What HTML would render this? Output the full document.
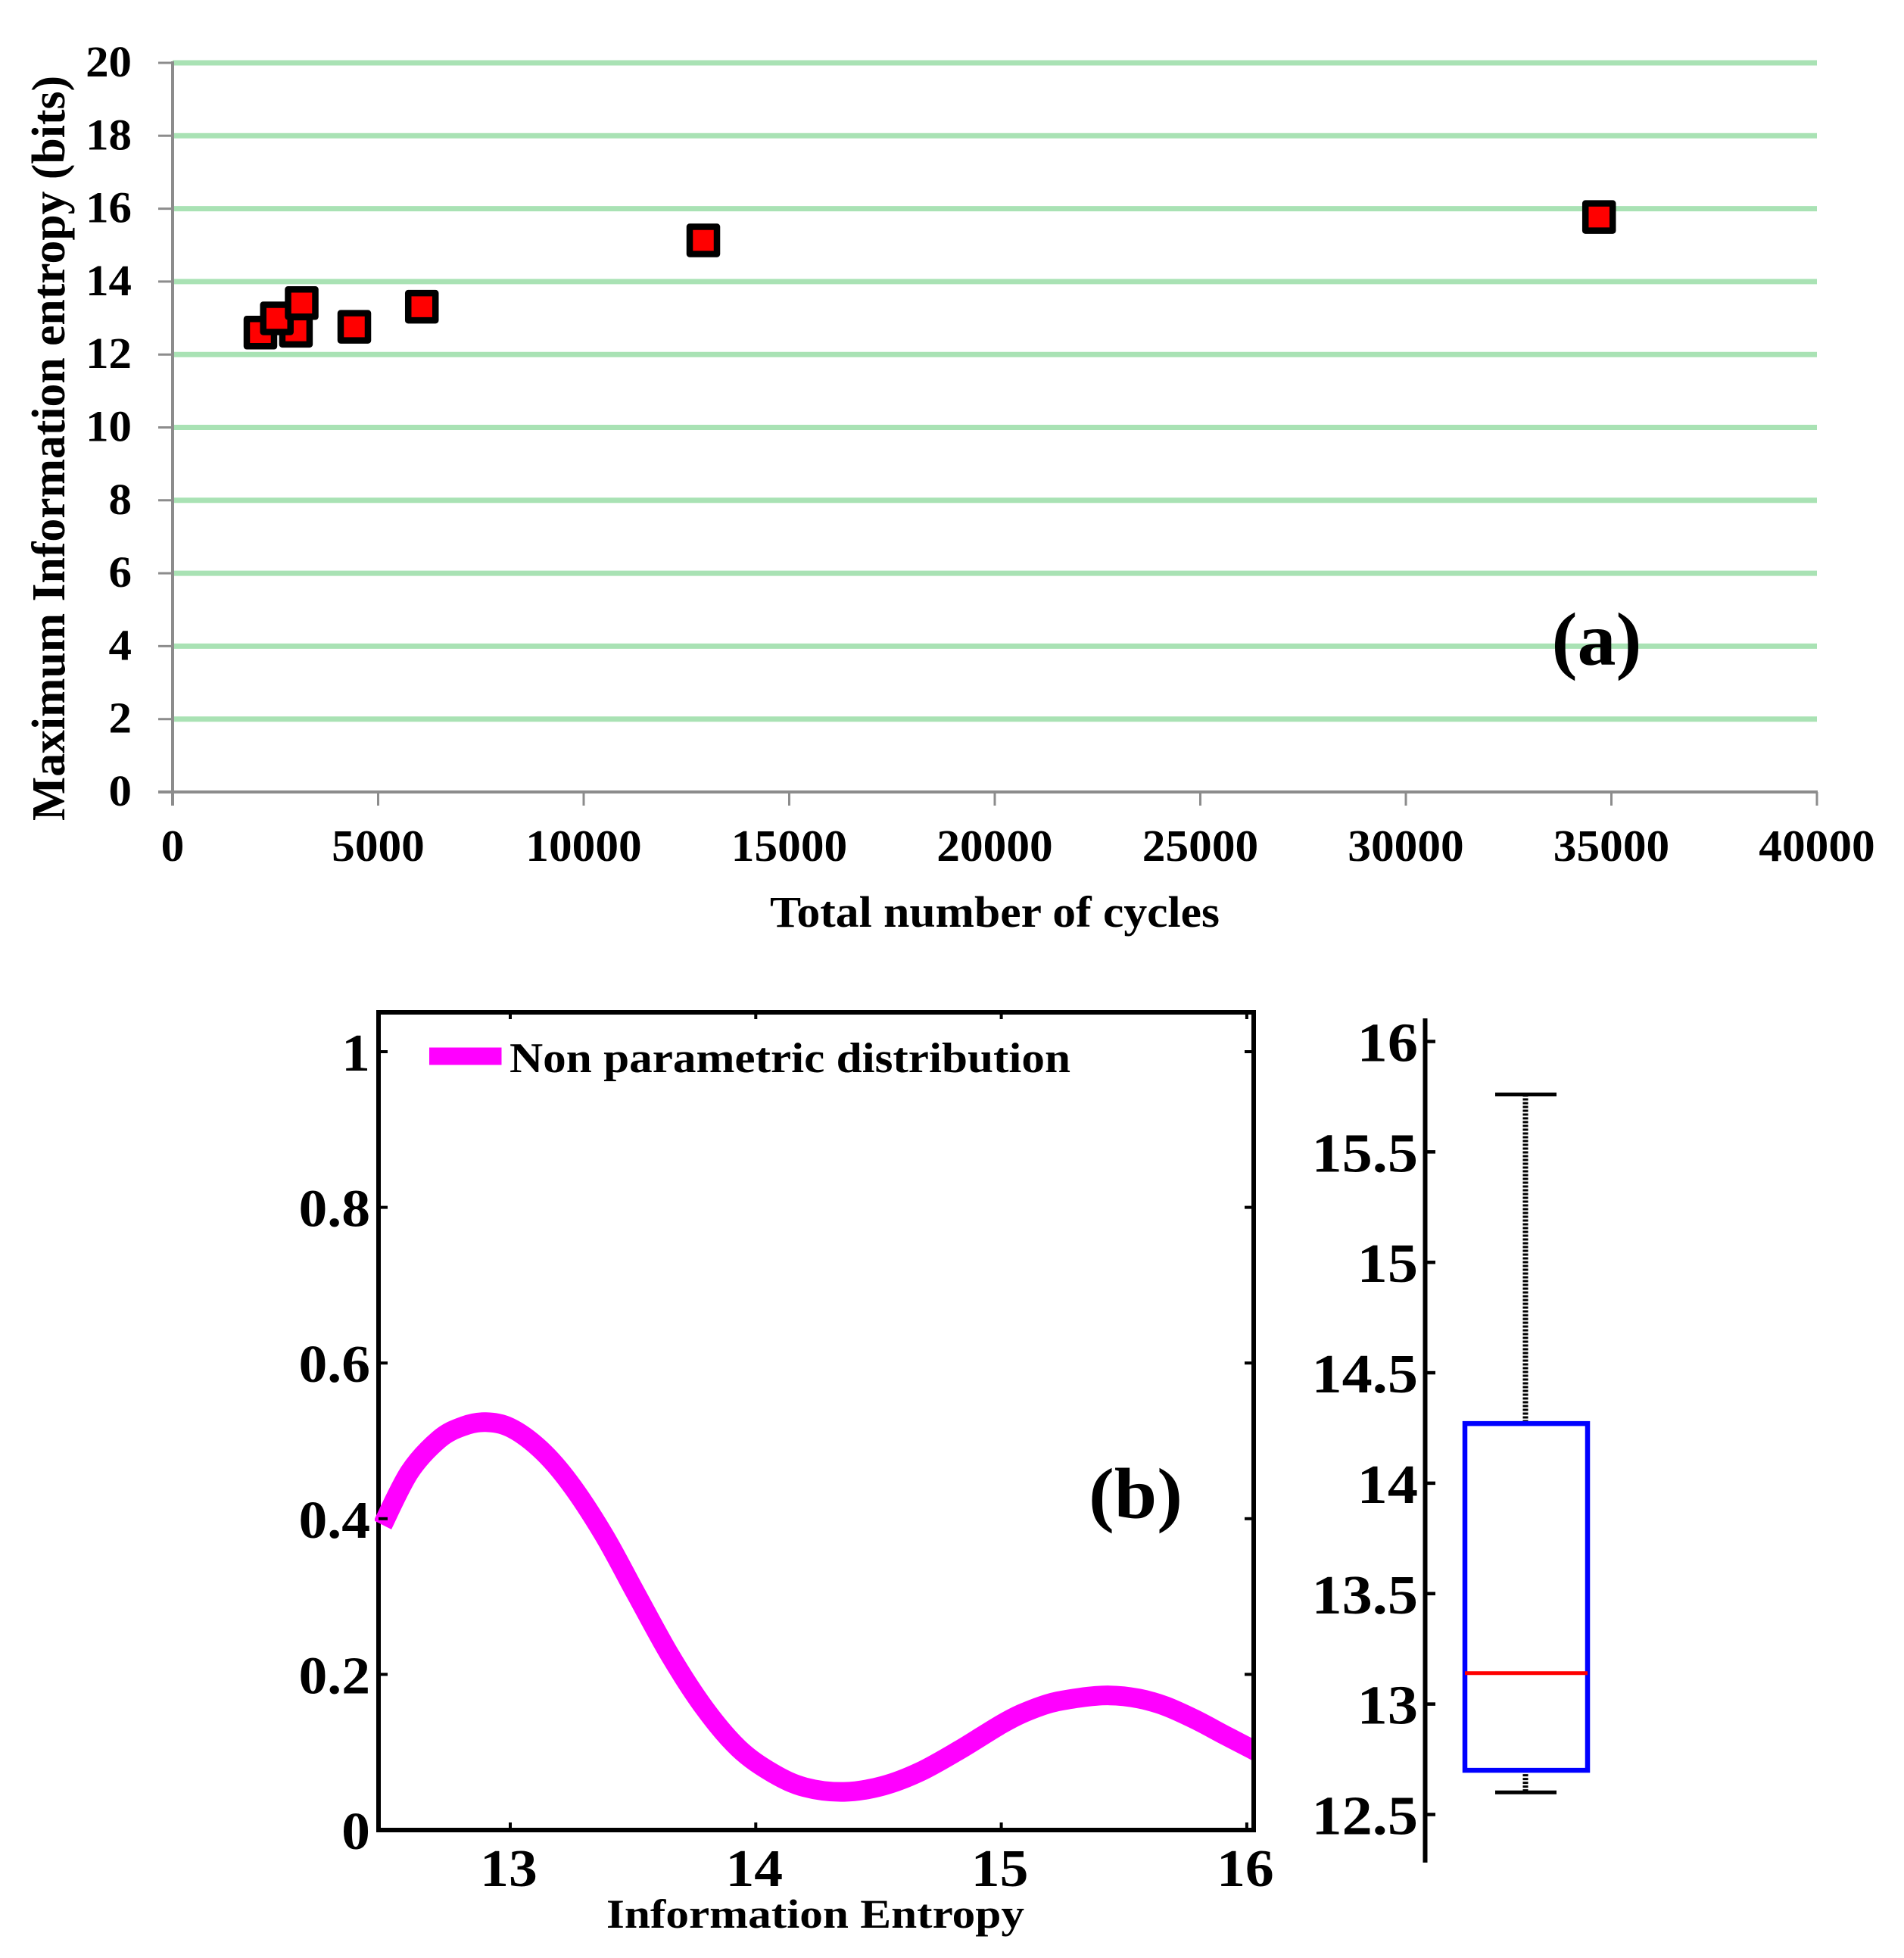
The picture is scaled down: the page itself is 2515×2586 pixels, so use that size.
<!DOCTYPE html>
<html lang="en">
<head>
<meta charset="utf-8">
<title>Entropy charts</title>
<style>
html,body{margin:0;padding:0;background:#fff;}
svg{display:block;}
text{font-family:"Liberation Serif",serif;font-weight:bold;fill:#000;}
</style>
</head>
<body>
<svg id="figure" xmlns="http://www.w3.org/2000/svg" width="2515" height="2586" viewBox="0 0 2515 2586">
  <defs>
    <clipPath id="frame-clip"><rect x="495" y="1337" width="1158" height="1080"></rect></clipPath>
  </defs>
  <rect x="0" y="0" width="2515" height="2586" fill="#ffffff"></rect>
  <g id="chart-a"></g>
  <g id="chart-b"></g>
  <g id="chart-c"></g>
</svg>
<script>
// Panel (a) data
const cyclesTicks = [0, 5000, 10000, 15000, 20000, 25000, 30000, 35000, 40000];
const entropyTicks = [0, 2, 4, 6, 8, 10, 12, 14, 16, 18, 20];
const totalCycles = [2136, 3000, 2536, 3140, 4420, 6063, 12910, 34700];
const maxEntropy = [12.6, 12.65, 12.99, 13.41, 12.76, 13.31, 15.13, 15.77];

// Panel (b) data
const densityXTicks = [13, 14, 15, 16];
const densityYTicks = [0, 0.2, 0.4, 0.6, 0.8, 1];
const densityX = [12.48, 12.59, 12.71, 12.81, 12.90, 13.0, 13.12, 13.24, 13.38, 13.51, 13.65, 13.79, 13.93, 14.07, 14.20, 14.36, 14.52, 14.67, 14.83, 14.99, 15.08, 15.20, 15.32, 15.44, 15.56, 15.67, 15.79, 15.91, 16.02, 16.06];
const densityY = [0.392, 0.460, 0.502, 0.519, 0.524, 0.517, 0.490, 0.447, 0.380, 0.305, 0.225, 0.157, 0.105, 0.073, 0.055, 0.049, 0.057, 0.075, 0.103, 0.134, 0.149, 0.163, 0.170, 0.173, 0.169, 0.159, 0.142, 0.122, 0.104, 0.097];

// Panel (c) data
const boxTicks = [12.5, 13, 13.5, 14, 14.5, 15, 15.5, 16];
const boxTickLabels = ['12.5', '13', '13.5', '14', '14.5', '15', '15.5', '16'];
const whiskerHigh = 15.76;
const whiskerLow = 12.60;
const quartileHigh = 14.27;
const quartileLow = 12.70;
const medianValue = 13.14;

const NS = 'http://www.w3.org/2000/svg';
function xA(v){ return 228 + v * (2400 - 228) / 40000; }
function yA(v){ return 1046 - v * 48.15; }
function xB(v){ return 674 + (v - 13) * 324.3; }
function yB(v){ return 2417 - v * 1028; }
function yC(v){ return 1375.5 + (16 - v) * 291.7; }

function shape(parent, tag, props){
  const el = document.createElementNS(NS, tag);
  for (const k in props) el.setAttribute(k, props[k]);
  parent.appendChild(el);
  return el;
}
function line(parent, x1, y1, x2, y2, color, width){
  return shape(parent, 'line', {x1:x1, y1:y1, x2:x2, y2:y2, stroke:color, 'stroke-width':width});
}
function label(parent, str, x, y, size, anchor, stretch){
  const el = document.createElementNS(NS, 'text');
  el.setAttribute('x', x);
  el.setAttribute('y', y);
  el.setAttribute('font-size', size);
  el.setAttribute('text-anchor', anchor);
  el.textContent = str;
  parent.appendChild(el);
  if (stretch && stretch !== 1) {
    const w = el.getComputedTextLength();
    el.setAttribute('textLength', (w * stretch).toFixed(1));
    el.setAttribute('lengthAdjust', 'spacingAndGlyphs');
  }
  return el;
}
function fitted(el, len){
  el.setAttribute('textLength', len);
  el.setAttribute('lengthAdjust', 'spacingAndGlyphs');
}

/* ---------- Panel (a) ---------- */
const a = document.getElementById('chart-a');
const GREEN = '#a9e2b4';
const GRAY = '#8c8c8c';

entropyTicks.forEach(function(t){
  if (t !== 0) {
    const g = line(a, xA(0), yA(t), xA(40000), yA(t), GREEN, 7);
    
    
  }
  const tk = line(a, 209, yA(t), xA(0), yA(t), GRAY, 3);
  
  
  const lb = label(a, String(t), 174, yA(t) + 18, 58, 'end', 1.05);
  
  
});
cyclesTicks.forEach(function(t){
  const tk = line(a, xA(t), yA(0), xA(t), yA(0) + 18, GRAY, 3);
  
  
  const lb = label(a, String(t), xA(t), 1137, 59, 'middle', 1.04);
  
  
});
const axY = line(a, xA(0), yA(20) - 2, xA(0), yA(0) + 18, GRAY, 4);


const axX = line(a, 209, yA(0), xA(40000) + 1, yA(0), GRAY, 4);



totalCycles.forEach(function(c, i){
  const m = shape(a, 'rect', {
    x: xA(c) - 18, y: yA(maxEntropy[i]) - 18, width: 36, height: 36,
    fill: '#ff0000', stroke: '#000000', 'stroke-width': 8.5, 'stroke-linejoin': 'round'
  });
  
  
});

const yTitle = label(a, 'Maximum Information entropy (bits)', 0, 0, 62, 'middle');
yTitle.setAttribute('transform', 'translate(85 592) rotate(-90)');
fitted(yTitle, 984);



const xTitle = label(a, 'Total number of cycles', 1314, 1224, 58, 'middle');
fitted(xTitle, 594);



const tagA = label(a, '(a)', 2109, 878, 100, 'middle');
fitted(tagA, 119);



/* ---------- Panel (b) ---------- */
const b = document.getElementById('chart-b');

function smoothPath(xs, ys){
  const p = xs.map(function(x, i){ return [xB(x), yB(ys[i])]; });
  let d = 'M' + p[0][0].toFixed(1) + ' ' + p[0][1].toFixed(1);
  for (let i = 0; i < p.length - 1; i++) {
    const p0 = p[Math.max(i - 1, 0)], p1 = p[i], p2 = p[i + 1], p3 = p[Math.min(i + 2, p.length - 1)];
    const c1x = p1[0] + (p2[0] - p0[0]) / 6, c1y = p1[1] + (p2[1] - p0[1]) / 6;
    const c2x = p2[0] - (p3[0] - p1[0]) / 6, c2y = p2[1] - (p3[1] - p1[1]) / 6;
    d += 'C' + c1x.toFixed(1) + ' ' + c1y.toFixed(1) + ' ' + c2x.toFixed(1) + ' ' + c2y.toFixed(1) + ' ' + p2[0].toFixed(1) + ' ' + p2[1].toFixed(1);
  }
  return d;
}

const frame = shape(b, 'rect', {x: 500, y: 1337, width: 1156, height: 1080, fill: 'none', stroke: '#000000', 'stroke-width': 6});



const curve = shape(b, 'path', {
  d: smoothPath(densityX, densityY), fill: 'none', stroke: '#ff00ff', 'stroke-width': 26, 'clip-path': 'url(#frame-clip)'
});



densityXTicks.forEach(function(t){
  const tkB = line(b, xB(t), 2417, xB(t), 2407, '#000000', 4);
  
  
  const tkT = line(b, xB(t), 1337, xB(t), 1346, '#000000', 4);
  
  
  const lb = label(b, String(t), xB(t) - 2, 2491, 70, 'middle', 1.08);
  
  
});
densityYTicks.forEach(function(t){
  const tkL = line(b, 500, yB(t), 512, yB(t), '#000000', 4);
  
  
  const tkR = line(b, 1644, yB(t), 1656, yB(t), '#000000', 4);
  
  
  const lb = label(b, String(t), 489, yB(t) + 25, 70, 'end', 1.08);
  
  
});

const legendLine = line(b, 567, 1395, 662.5, 1395, '#ff00ff', 23);


const legendText = label(b, 'Non parametric distribution', 673, 1416, 56, 'start');
fitted(legendText, 741);



const bTitle = label(b, 'Information Entropy', 801, 2546, 54, 'start');
fitted(bTitle, 552);



const tagB = label(b, '(b)', 1500, 2005, 95, 'middle');
fitted(tagB, 124);



/* ---------- Panel (c) ---------- */
const c = document.getElementById('chart-c');
const BOX_L = 1935, BOX_R = 2097, BOX_C = 2015, CAP_L = 1975, CAP_R = 2056;

const cAxis = line(c, 1882.5, 1345, 1882.5, 2460, '#000000', 6);


boxTicks.forEach(function(t, i){
  const tk = line(c, 1882, yC(t), 1896, yC(t), '#000000', 4.5);
  
  
  const lb = label(c, boxTickLabels[i], 1873, yC(t) + 26, 73, 'end', 1.1);
  
  
});

const whiskUp = shape(c, 'line', {x1: BOX_C, y1: yC(whiskerHigh), x2: BOX_C, y2: yC(quartileHigh), stroke: '#000000', 'stroke-width': 7, 'stroke-dasharray': '3 2'});


const whiskDown = shape(c, 'line', {x1: BOX_C, y1: yC(quartileLow), x2: BOX_C, y2: yC(whiskerLow), stroke: '#000000', 'stroke-width': 7, 'stroke-dasharray': '3 2'});


const capUp = line(c, CAP_L, yC(whiskerHigh), CAP_R, yC(whiskerHigh), '#000000', 5);


const capDown = line(c, CAP_L, yC(whiskerLow), CAP_R, yC(whiskerLow), '#000000', 5);



const iqr = shape(c, 'rect', {
  x: BOX_L, y: yC(quartileHigh), width: BOX_R - BOX_L, height: yC(quartileLow) - yC(quartileHigh),
  fill: 'none', stroke: '#0000ff', 'stroke-width': 6.5
});


const median = line(c, BOX_L, yC(medianValue), BOX_R, yC(medianValue), '#ff0000', 5);


</script>
</body>
</html>
